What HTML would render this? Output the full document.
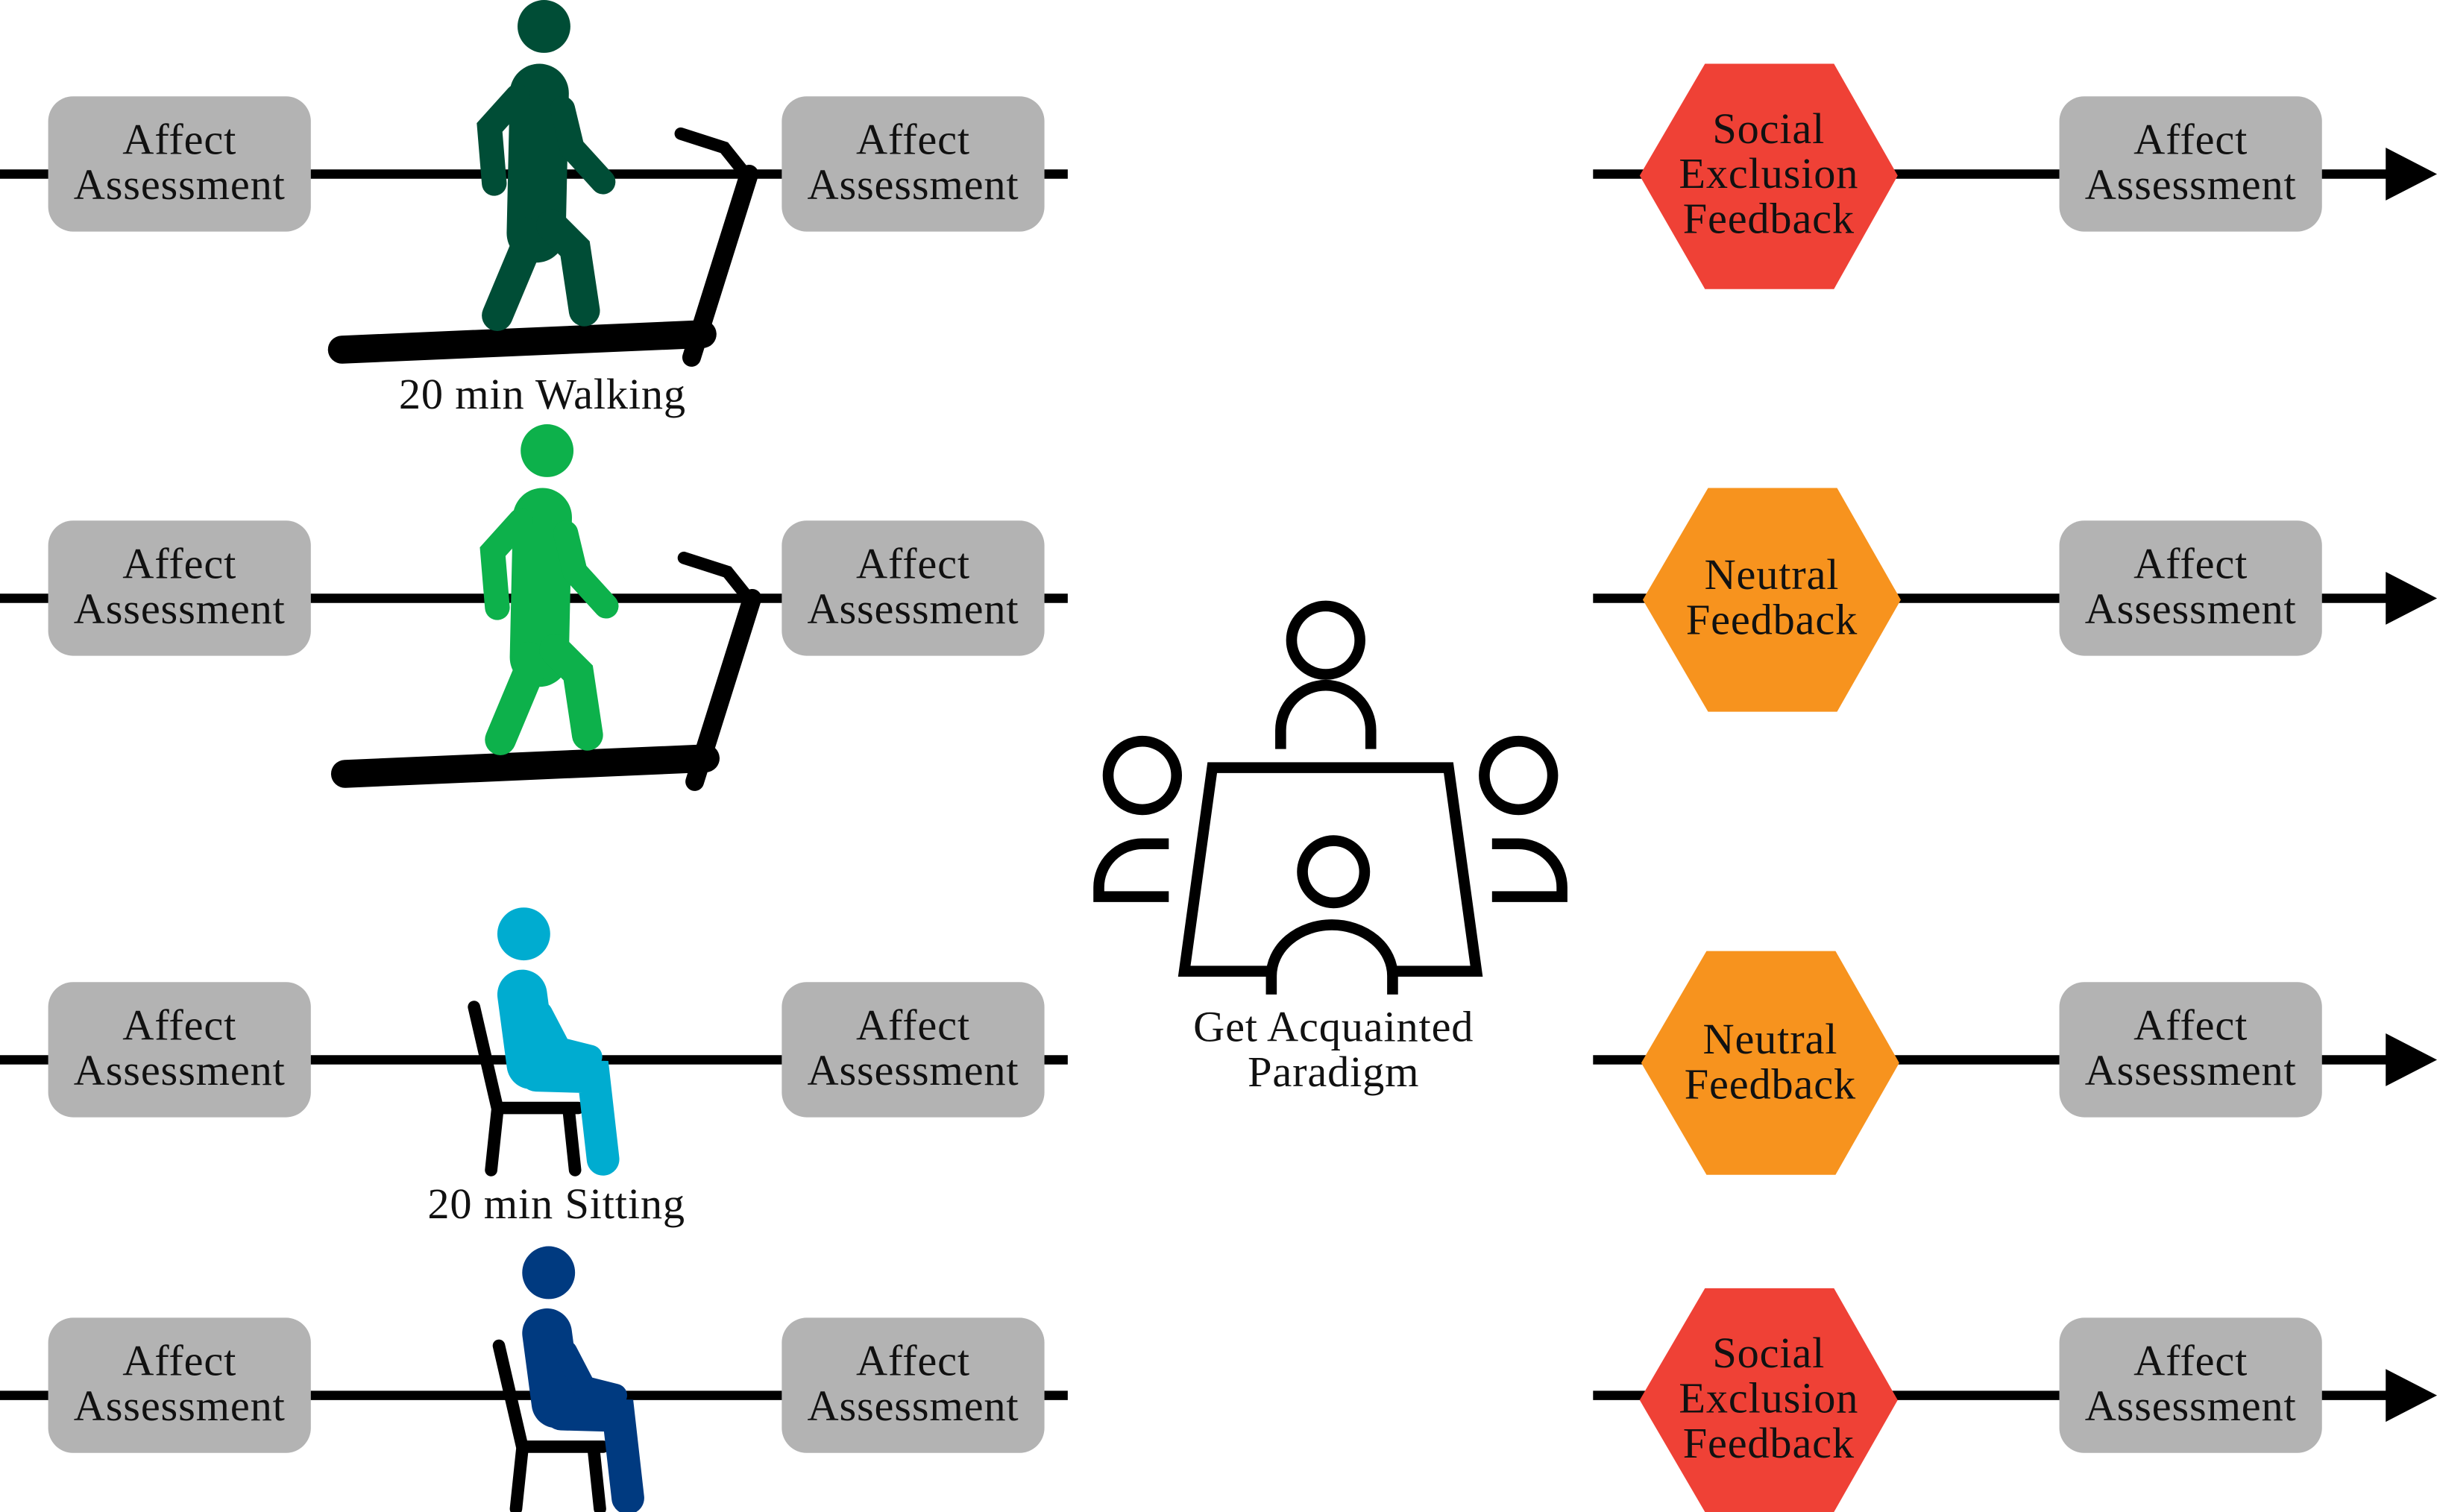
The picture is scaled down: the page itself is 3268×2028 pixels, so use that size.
<!DOCTYPE html>
<html><head><meta charset="utf-8"><style>
html,body{margin:0;padding:0;background:#fff;}
svg{display:block;}
text{font-family:"Liberation Serif",serif;font-size:28px;letter-spacing:0.4px;fill:#111;text-anchor:middle;}
</style></head><body>
<svg width="3268" height="2028" viewBox="0 0 1568 973" xmlns="http://www.w3.org/2000/svg">
<defs>
<g id="box"><rect x="0" y="-50" width="169" height="87" rx="16" fill="#b3b3b3"/>
<text x="84.5" y="-13">Affect</text><text x="84.5" y="16">Assessment</text></g>
<g id="tm" stroke="#000" stroke-linecap="round" fill="none">
<line x1="220" y1="225" x2="452" y2="215" stroke-width="18"/>
<line x1="445" y1="230" x2="482" y2="112" stroke-width="12"/>
<polyline points="438,86 466,95 478,110" stroke-width="8"/>
</g>
<g id="walker" stroke-linecap="round" fill="none">
<line x1="347" y1="60" x2="345" y2="150" stroke-width="38"/>
<polyline points="333,62 315,82 318,118" stroke-width="16"/>
<polyline points="362,70 368,95 388,117" stroke-width="16"/>
<polyline points="338,150 338,160 320,203" stroke-width="20"/>
<polyline points="355,145 370,160 376,200" stroke-width="20"/>
</g>
</defs>
<g stroke="#000" stroke-width="6">
<line x1="0" y1="112" x2="687" y2="112"/><line x1="0" y1="385" x2="687" y2="385"/>
<line x1="0" y1="682" x2="687" y2="682"/><line x1="0" y1="898" x2="687" y2="898"/>
<line x1="1025" y1="112" x2="1545" y2="112"/><line x1="1025" y1="385" x2="1545" y2="385"/>
<line x1="1025" y1="682" x2="1545" y2="682"/><line x1="1025" y1="898" x2="1545" y2="898"/>
</g>
<g fill="#000">
<polygon points="1535,95 1568,112 1535,129"/><polygon points="1535,368 1568,385 1535,402"/>
<polygon points="1535,665 1568,682 1535,699"/><polygon points="1535,881 1568,898 1535,915"/>
</g>
<use href="#box" x="31" y="112"/><use href="#box" x="503" y="112"/><use href="#box" x="1325" y="112"/>
<use href="#box" x="31" y="385"/><use href="#box" x="503" y="385"/><use href="#box" x="1325" y="385"/>
<use href="#box" x="31" y="682"/><use href="#box" x="503" y="682"/><use href="#box" x="1325" y="682"/>
<use href="#box" x="31" y="898"/><use href="#box" x="503" y="898"/><use href="#box" x="1325" y="898"/>
<polygon points="1097,41 1180,41 1221,113 1180,186 1097,186 1055,113" fill="#ef4136"/>
<text x="1138" y="92">Social</text><text x="1138" y="121">Exclusion</text><text x="1138" y="150">Feedback</text>
<polygon points="1099,314 1182,314 1223,386 1182,458 1099,458 1057,386" fill="#f7931e"/>
<text x="1140" y="379">Neutral</text><text x="1140" y="408">Feedback</text>
<polygon points="1098,612 1181,612 1222,684 1181,756 1098,756 1056,684" fill="#f7931e"/>
<text x="1139" y="678">Neutral</text><text x="1139" y="707">Feedback</text>
<polygon points="1097,829 1180,829 1221,901 1180,973 1097,973 1055,901" fill="#ef4136"/>
<text x="1138" y="880">Social</text><text x="1138" y="909">Exclusion</text><text x="1138" y="938">Feedback</text>
<use href="#tm"/>
<circle cx="350" cy="17" r="17" fill="#004d36"/>
<use href="#walker" stroke="#004d36"/>
<text x="349" y="263">20 min Walking</text>
<g transform="translate(2,273)"><use href="#tm"/>
<circle cx="350" cy="17" r="17" fill="#0db14b"/>
<use href="#walker" stroke="#0db14b"/></g>
<g stroke-linecap="round" fill="none">
<g stroke="#000" stroke-width="8"><polyline points="305,648 320,713 372,713"/>
<line x1="320" y1="715" x2="316" y2="753"/><line x1="366" y1="715" x2="370" y2="753"/></g>
<circle cx="337" cy="601" r="17" fill="#00acd0" stroke="none"/>
<g stroke="#00acd0"><line x1="336" y1="640" x2="342" y2="685" stroke-width="32"/>
<polyline points="345,692 382,693 388,746" stroke-width="21"/>
<polyline points="348,652 360,675 380,680" stroke-width="15"/></g>
</g>
<text x="358" y="784">20 min Sitting</text>
<g transform="translate(16,218)" stroke-linecap="round" fill="none">
<g stroke="#000" stroke-width="8"><polyline points="305,648 320,713 372,713"/>
<line x1="320" y1="715" x2="316" y2="753"/><line x1="366" y1="715" x2="370" y2="753"/></g>
<circle cx="337" cy="601" r="17" fill="#003a80" stroke="none"/>
<g stroke="#003a80"><line x1="336" y1="640" x2="342" y2="685" stroke-width="32"/>
<polyline points="345,692 382,693 388,746" stroke-width="21"/>
<polyline points="348,652 360,675 380,680" stroke-width="15"/></g>
</g>
<g stroke="#000" stroke-width="7" fill="none">
<circle cx="853" cy="412" r="22"/>
<path d="M824,482 V470 A29,29 0 0 1 882,470 V482"/>
<polygon points="780,494 932,494 950,625 762,625"/>
<circle cx="858" cy="561" r="20"/>
<path d="M818,640 V628 A38,32 0 0 1 896,628 V640" fill="#fff"/>
<circle cx="735" cy="499" r="22"/>
<path d="M752,543 H735 A28,28 0 0 0 707,571 V577 H752"/>
<circle cx="977" cy="499" r="22"/>
<path d="M960,543 H977 A28,28 0 0 1 1005,571 V577 H960"/>
</g>
<text x="858" y="670">Get Acquainted</text><text x="858" y="699">Paradigm</text>
</svg>
</body></html>
